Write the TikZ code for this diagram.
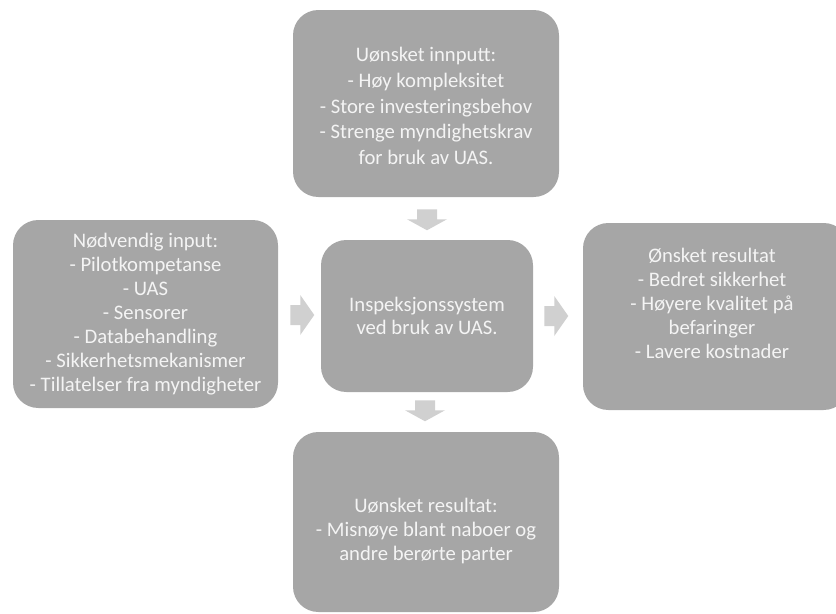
\documentclass[tikz,border=0pt]{standalone}
\usepackage{fontspec}
\setmainfont{Carlito}
\usetikzlibrary{calc}
\definecolor{boxgray}{HTML}{A6A6A6}
\definecolor{arrgray}{HTML}{D0D0D0}
\definecolor{txtwhite}{HTML}{F4F4F4}
\newcommand\downarr[1]{%
  \fill[arr] ($(#1)+(-10,0)$) -- ($(#1)+(10,0)$) -- ($(#1)+(10,10)$) -- ($(#1)+(20,10)$)
    -- ($(#1)+(0,21)$) -- ($(#1)+(-20,10)$) -- ($(#1)+(-10,10)$) -- cycle;}
\newcommand\rightarr[1]{%
  \fill[arr] ($(#1)+(0,-10)$) -- ($(#1)+(10,-10)$) -- ($(#1)+(10,-20)$) -- ($(#1)+(24,0)$)
    -- ($(#1)+(10,20)$) -- ($(#1)+(10,10)$) -- ($(#1)+(0,10)$) -- cycle;}
\begin{document}
\begin{tikzpicture}[x=0.75pt,y=-0.75pt,
  box/.style={fill=boxgray, draw=none, rounded corners=19pt, inner sep=0pt},
  txt/.style={text=txtwhite, align=center, inner sep=0pt, font=\fontsize{15.5}{18}\selectfont},
  arr/.style={fill=arrgray, draw=none}]
\useasboundingbox (0,0) rectangle (836,614);
\clip (0,0) rectangle (836,614);
% boxes
\node[box, minimum width=199.5pt, minimum height=140.25pt] (top) at (426,103.5) {};
\node[box, minimum width=198.75pt, minimum height=141pt] (left) at (145.5,314) {};
\node[box, minimum width=159pt, minimum height=114pt] (mid) at (427,316) {};
\node[box, minimum width=199.5pt, minimum height=140.25pt] (right) at (716,316.5) {};
\node[box, minimum width=199.5pt, minimum height=135pt] (bot) at (426,522) {};
% texts
\node[txt, font=\fontsize{15.5}{19.2}\selectfont] (topT) at (426,106) {Uønsket innputt:\\- Høy kompleksitet\\- Store investeringsbehov\\- Strenge myndighetskrav\\for bruk av UAS.};
\node[txt] (leftT) at (145.5,314) {Nødvendig input:\\- Pilotkompetanse\\- UAS\\- Sensorer\\- Databehandling\\- Sikkerhetsmekanismer\\- Tillatelser fra myndigheter};
\node[txt, font=\fontsize{15.5}{17.5}\selectfont] (midT) at (427,316) {Inspeksjonssystem\\ved bruk av UAS.};
\node[txt] (rightT) at (712,303) {Ønsket resultat\\- Bedret sikkerhet\\- Høyere kvalitet på\\befaringer\\- Lavere kostnader};
\node[txt] (botT) at (426,531) {Uønsket resultat:\\- Misnøye blant naboer og\\andre berørte parter};
% arrows
\coordinate (a1) at ($(top.south)+(1,12)$);
\coordinate (a2) at ($(mid.south)+(-2,8)$);
\coordinate (a3) at ($(left.east)+(12,1)$);
\coordinate (a4) at ($(mid.east)+(11,0)$);
\downarr{a1}
\downarr{a2}
\rightarr{a3}
\rightarr{a4}
\end{tikzpicture}
\end{document}
